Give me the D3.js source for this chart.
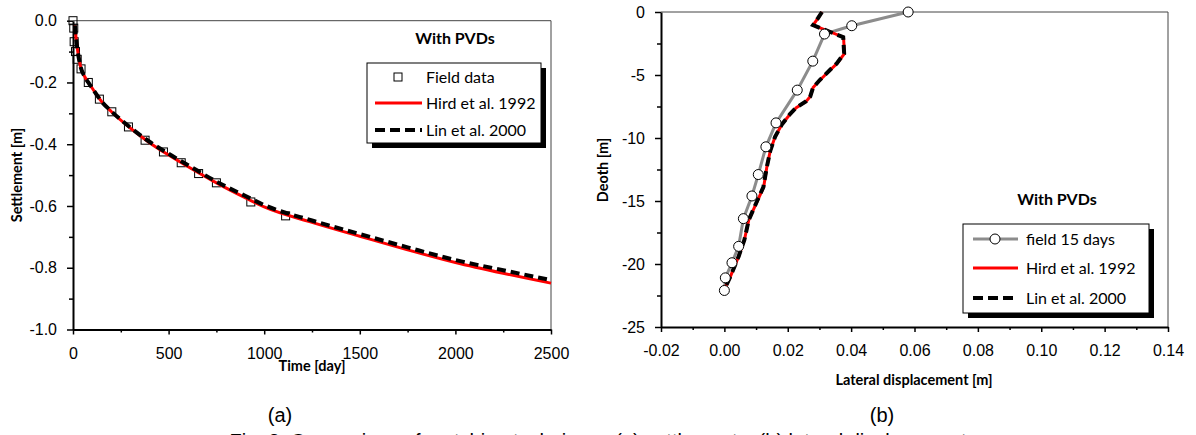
<!DOCTYPE html>
<html lang="en">
<head>
<meta charset="UTF-8">
<title>Settlement and lateral displacement, with PVDs</title>
<style>
  body { margin: 0; background: #fff; }
  svg { display: block; font-family: Lato, "Open Sans", sans-serif; }
  .tick text { font-size: 16px; fill: #000; }
  .tick line { stroke: #000; stroke-width: 1.5; }
  .domain { stroke: #000; stroke-width: 2; }
  .axis-title { font-size: 14.5px; font-weight: bold; }
  .note { font-size: 16px; font-weight: bold; }
  .legend text { font-size: 16px; }
  .caption { font-family: "Liberation Sans", Arial, sans-serif; font-size: 20px; }
</style>
</head>
<body>
<svg width="1196" height="435"></svg>
<script src="https://d3js.org/d3.v7.min.js"></script>
<script>
// ---- (a) settlement vs time ----
const fieldDays   = [0, 4, 6, 13, 22, 42, 80, 138, 203, 290, 377, 473, 566, 657, 750, 930, 1112];
const fieldSettle = [0, -0.024, -0.068, -0.10, -0.125, -0.156, -0.20, -0.254, -0.295, -0.344, -0.387, -0.425, -0.46, -0.495, -0.525, -0.587, -0.632];

const modelDays  = [10, 15, 25, 40, 60, 80, 100, 150, 200, 300, 400, 500, 600, 750, 900, 1000, 1250, 1500, 1750, 2000, 2250, 2500];
const hirdSettle = [-0.015, -0.05, -0.10, -0.15, -0.18, -0.20, -0.218, -0.262, -0.294, -0.348, -0.395, -0.435, -0.472, -0.525, -0.573, -0.603, -0.653, -0.698, -0.742, -0.783, -0.818, -0.85];
const linSettle  = [-0.015, -0.05, -0.10, -0.15, -0.18, -0.20, -0.218, -0.262, -0.293, -0.346, -0.392, -0.431, -0.467, -0.521, -0.567, -0.597, -0.647, -0.691, -0.734, -0.775, -0.808, -0.84];

const timeTicks   = [0, 500, 1000, 1500, 2000, 2500];
const settleTicks = [0, -0.2, -0.4, -0.6, -0.8, -1.0];

// ---- (b) lateral displacement vs depth ----
const fieldDepth = [0, -1.09, -1.75, -3.9, -6.2, -8.8, -10.7, -12.9, -14.6, -16.4, -18.6, -19.9, -21.1, -22.1];
const fieldDisp  = [0.058, 0.0402, 0.0316, 0.0279, 0.023, 0.0163, 0.0131, 0.0107, 0.0087, 0.006, 0.0045, 0.0024, 0.0003, 0];

const modelDepth = [0, -0.5, -1.04, -2.0, -3.3, -4.1, -4.6, -5.4, -6.0, -6.7, -7.1, -7.6, -8.1, -8.9, -9.9, -11, -12.3, -13.9, -14.9, -16.5, -18.1, -19.4, -21, -22];
const hirdDisp   = [0.0308, 0.0295, 0.028, 0.0376, 0.0379, 0.0355, 0.0334, 0.0302, 0.028, 0.0271, 0.0258, 0.0227, 0.0208, 0.0182, 0.016, 0.0145, 0.0134, 0.0124, 0.0106, 0.0077, 0.0063, 0.0045, 0.0019, 0];
const linDisp    = [0.0308, 0.0295, 0.028, 0.0375, 0.0378, 0.0354, 0.0333, 0.0301, 0.028, 0.0271, 0.0257, 0.0226, 0.0207, 0.0182, 0.016, 0.0145, 0.0134, 0.0123, 0.0105, 0.0077, 0.0063, 0.0045, 0.0019, 0];

const dispTicks  = [-0.02, 0, 0.02, 0.04, 0.06, 0.08, 0.10, 0.12, 0.14];
const depthTicks = [0, -5, -10, -15, -20, -25];

// plain hyphen for negatives, like the spreadsheet labels
const locale = d3.formatLocale({ decimal: ".", thousands: ",", grouping: [3], currency: ["", ""], minus: "-" });

const svg = d3.select("svg");
svg.append("rect").attr("width", 1196).attr("height", 435).attr("fill", "#fff");

// draws axes with minor ticks plus the thin top/right frame
function drawFrame(x, y, xMajor, xMinor, yMajor, yMinor, fx, fy) {
    const [x0, x1] = x.range(), [y1, y0] = y.range();
    svg.append("path")
        .attr("d", `M${x0},${y0}H${x1}V${y1}`)
        .attr("fill", "none").attr("stroke", "#444").attr("stroke-width", 1);

    svg.append("g").attr("transform", `translate(0,${y1})`)
        .call(d3.axisBottom(x).tickValues(xMinor).tickSize(3).tickFormat(""))
        .call(g => g.select(".domain").remove());
    svg.append("g").attr("transform", `translate(${x0},0)`)
        .call(d3.axisLeft(y).tickValues(yMinor).tickSize(4).tickFormat(""))
        .call(g => g.select(".domain").remove());

    svg.append("g").attr("transform", `translate(0,${y1})`)
        .call(d3.axisBottom(x).tickValues(xMajor).tickSize(5).tickSizeOuter(0).tickPadding(13).tickFormat(fx));
    svg.append("g").attr("transform", `translate(${x0},0)`)
        .call(d3.axisLeft(y).tickValues(yMajor).tickSize(6).tickSizeOuter(0).tickPadding(10).tickFormat(fy));
}

function legendBox(x, y, w, h) {
    const g = svg.append("g").attr("class", "legend");
    g.append("rect").attr("x", x + 5).attr("y", y + 5).attr("width", w).attr("height", h).attr("fill", "#000");
    g.append("rect").attr("x", x).attr("y", y).attr("width", w).attr("height", h)
        .attr("fill", "#fff").attr("stroke", "#000").attr("stroke-width", 1);
    return g;
}

// ===== panel (a) =====
const xa = d3.scaleLinear().domain([0, 2500]).range([73, 551]);
const ya = d3.scaleLinear().domain([-1, 0]).range([329.5, 20.7]);

drawFrame(xa, ya, timeTicks, d3.range(250, 2500, 500), settleTicks, [-0.1, -0.3, -0.5, -0.7, -0.9],
    locale.format("d"), locale.format(".1f"));

const lineA = d3.line().x(d => xa(d[0])).y(d => ya(d[1])).curve(d3.curveMonotoneX);
const fieldA = fieldDays.map((d, i) => [d, fieldSettle[i]]);

svg.append("g").selectAll("rect").data(fieldA).join("rect")
    .attr("x", d => xa(d[0]) - 4).attr("y", d => ya(d[1]) - 4)
    .attr("width", 8).attr("height", 8)
    .attr("fill", "none").attr("stroke", "#000").attr("stroke-width", 1);

svg.append("path").datum(modelDays.map((d, i) => [d, hirdSettle[i]]))
    .attr("d", lineA).attr("fill", "none").attr("stroke", "#f00").attr("stroke-width", 3);
svg.append("path").datum(modelDays.map((d, i) => [d, linSettle[i]]))
    .attr("d", lineA).attr("fill", "none").attr("stroke", "#000").attr("stroke-width", 4)
    .attr("stroke-dasharray", "9,5");

svg.append("text").attr("class", "axis-title")
    .attr("transform", "translate(22,175) rotate(-90)").attr("text-anchor", "middle").text("Settlement [m]");
svg.append("text").attr("class", "axis-title")
    .attr("x", 312).attr("y", 371).attr("text-anchor", "middle").text("Time [day]");
svg.append("text").attr("class", "note")
    .attr("x", 455).attr("y", 44).attr("text-anchor", "middle").text("With PVDs");

const legA = legendBox(367, 63, 174, 80);
legA.append("rect").attr("x", 394).attr("y", 73).attr("width", 8).attr("height", 8)
    .attr("fill", "none").attr("stroke", "#000");
legA.append("line").attr("x1", 375).attr("x2", 422).attr("y1", 103).attr("y2", 103)
    .attr("stroke", "#f00").attr("stroke-width", 3);
legA.append("line").attr("x1", 375).attr("x2", 422).attr("y1", 130).attr("y2", 130)
    .attr("stroke", "#000").attr("stroke-width", 4).attr("stroke-dasharray", "10,5");
legA.selectAll("text.lab").data(["Field data", "Hird et al. 1992", "Lin et al. 2000"]).join("text")
    .attr("x", 426).attr("y", (d, i) => [77, 103, 130][i]).attr("dy", "0.35em").text(d => d);

// ===== panel (b) =====
const xb = d3.scaleLinear().domain([-0.02, 0.14]).range([661, 1168]);
const yb = d3.scaleLinear().domain([-25, 0]).range([327, 12]);

drawFrame(xb, yb, dispTicks, d3.range(-0.01, 0.14, 0.02), depthTicks, [-2.5, -7.5, -12.5, -17.5, -22.5],
    locale.format(".2f"), locale.format("d"));

const lineB = d3.line().x(d => xb(d[0])).y(d => yb(d[1]));
const fieldB = fieldDisp.map((d, i) => [d, fieldDepth[i]]);

svg.append("path").datum(fieldB).attr("d", lineB)
    .attr("fill", "none").attr("stroke", "#8c8c8c").attr("stroke-width", 3);
svg.append("path").datum(hirdDisp.map((d, i) => [d, modelDepth[i]]))
    .attr("d", lineB).attr("fill", "none").attr("stroke", "#f00").attr("stroke-width", 3);
svg.append("path").datum(linDisp.map((d, i) => [d, modelDepth[i]]))
    .attr("d", lineB).attr("fill", "none").attr("stroke", "#000").attr("stroke-width", 4)
    .attr("stroke-dasharray", "9,5");
svg.append("g").selectAll("circle").data(fieldB).join("circle")
    .attr("cx", d => xb(d[0])).attr("cy", d => yb(d[1])).attr("r", 5)
    .attr("fill", "#fff").attr("stroke", "#000").attr("stroke-width", 1);

svg.append("text").attr("class", "axis-title")
    .attr("transform", "translate(608,170) rotate(-90)").attr("text-anchor", "middle").text("Deoth [m]");
svg.append("text").attr("class", "axis-title")
    .attr("x", 914).attr("y", 385).attr("text-anchor", "middle").text("Lateral displacement [m]");
svg.append("text").attr("class", "note")
    .attr("x", 1057).attr("y", 205).attr("text-anchor", "middle").text("With PVDs");

const legB = legendBox(963, 224, 186, 89);
legB.append("line").attr("x1", 973).attr("x2", 1018).attr("y1", 239).attr("y2", 239)
    .attr("stroke", "#8c8c8c").attr("stroke-width", 3);
legB.append("circle").attr("cx", 995).attr("cy", 239).attr("r", 5)
    .attr("fill", "#fff").attr("stroke", "#000");
legB.append("line").attr("x1", 973).attr("x2", 1018).attr("y1", 268).attr("y2", 268)
    .attr("stroke", "#f00").attr("stroke-width", 3);
legB.append("line").attr("x1", 973).attr("x2", 1018).attr("y1", 298).attr("y2", 298)
    .attr("stroke", "#000").attr("stroke-width", 4).attr("stroke-dasharray", "10,5");
legB.selectAll("text.lab").data(["field 15 days", "Hird et al. 1992", "Lin et al. 2000"]).join("text")
    .attr("x", 1026).attr("y", (d, i) => [239, 268, 298][i]).attr("dy", "0.35em").text(d => d);

// ===== captions =====
svg.append("text").attr("class", "caption").attr("x", 280).attr("y", 422).attr("text-anchor", "middle").text("(a)");
svg.append("text").attr("class", "caption").attr("x", 882).attr("y", 422).attr("text-anchor", "middle").text("(b)");
svg.append("text").attr("class", "caption").attr("x", 598).attr("y", 448).attr("text-anchor", "middle")
    .text("Fig. 8. Comparison of matching techniques (a) settlements, (b) lateral displacement");
</script>
</body>
</html>
